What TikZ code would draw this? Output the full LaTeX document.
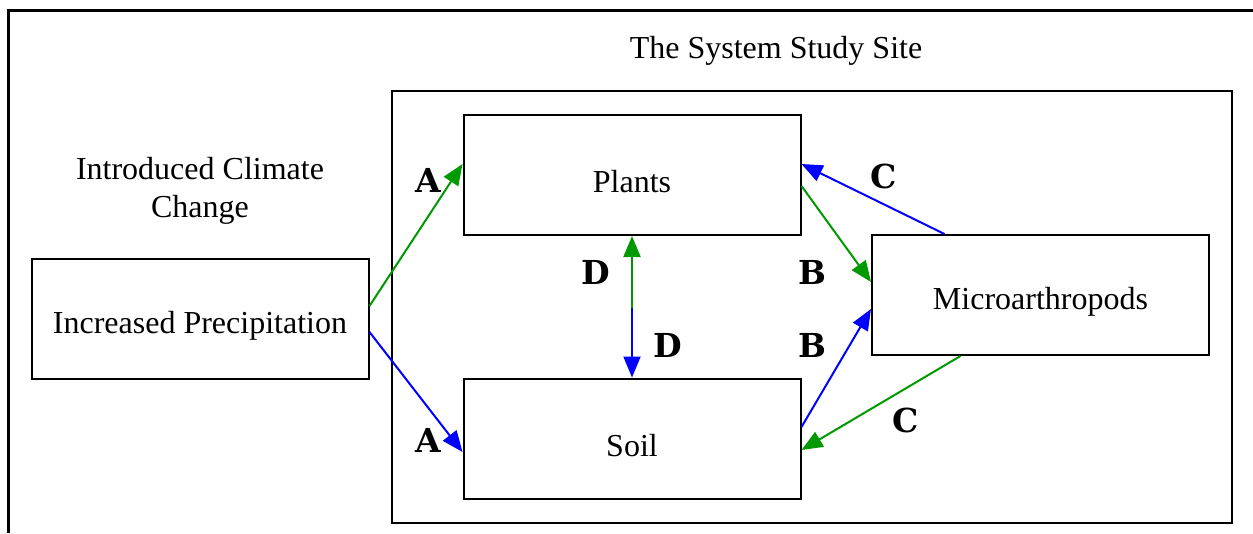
\documentclass[tikz,border=0pt]{standalone}
\usepackage{fontspec}
\setmainfont{Liberation Serif}
\newfontfamily\letterfont{DejaVu Serif}
\usetikzlibrary{arrows.meta}
\definecolor{arrowgreen}{RGB}{0,153,0}
\definecolor{arrowblue}{RGB}{0,0,255}
\begin{document}
\begin{tikzpicture}[
    x=1pt, y=-1pt,
    every node/.style={font=\fontsize{32}{38}\selectfont},
    box/.style={draw, line width=2pt, minimum width=337pt, minimum height=120pt, inner sep=0pt},
    boxtext/.style={label={[yshift=-7pt]center:#1}},
    flow/.style={line width=2pt, -{Triangle[length=21pt,width=17pt]}},
    greenflow/.style={flow, draw=arrowgreen, fill=arrowgreen},
    blueflow/.style={flow, draw=arrowblue, fill=arrowblue},
    letter/.style={font=\letterfont\bfseries\fontsize{33}{36}\selectfont}
]
    \useasboundingbox (0,0) rectangle (1253,533);
    % outer frame, cut at the right and bottom
    \draw[line width=3pt] (8,533) -- (8,10) -- (1253,10);
    % study site
    \node (title) at (776,51) {The System Study Site};
    \draw[line width=2pt] (392,91) rectangle (1232,523);
    \node[align=center] (climate) at (200,191) {Introduced Climate\\Change};
    % boxes
    \node[box, boxtext=Increased Precipitation] (precip) at (200,319) {};
    \node[box, boxtext=Plants] (plants) at (632,175) {};
    \node[box, boxtext=Soil] (soil) at (632,438.5) {};
    \node[box, boxtext=Microarthropods] (micro) at (1040.5,295) {};
    \coordinate (dmid) at (632,308);
    % connectors
    \draw[greenflow] ([yshift=13pt]precip.east) -- ([yshift=11pt]plants.west);
    \draw[blueflow] ([yshift=-13pt]precip.east) -- ([yshift=-13.5pt]soil.west);
    \draw[greenflow] (dmid) -- (plants.south);
    \draw[blueflow] (dmid) -- (soil.north);
    \draw[greenflow] ([yshift=-11pt]plants.east) -- ([yshift=13pt]micro.west);
    \draw[blueflow] ([yshift=11.5pt]soil.east) -- ([yshift=-14pt]micro.west);
    \draw[blueflow] ([xshift=-96pt]micro.north) -- ([yshift=11pt]plants.east);
    \draw[greenflow] ([xshift=-80pt]micro.south) -- ([yshift=-11.5pt]soil.east);
    % letters
    \node[letter] (a1) at (428,180) {A};
    \node[letter] (a2) at (428,440) {A};
    \node[letter] (d1) at (596,272) {D};
    \node[letter] (d2) at (668,345) {D};
    \node[letter] (b1) at (812,272) {B};
    \node[letter] (b2) at (812,345) {B};
    \node[letter] (c1) at (884,176) {C};
    \node[letter] (c2) at (906,420) {C};
\end{tikzpicture}
\end{document}
